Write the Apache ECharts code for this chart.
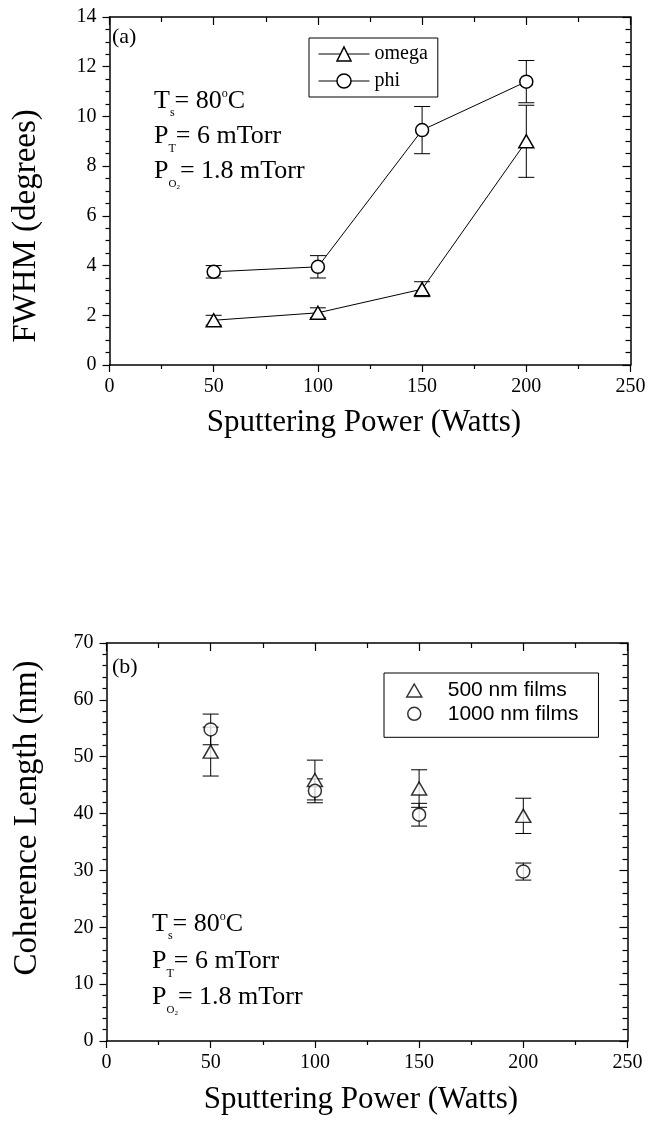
<!DOCTYPE html>
<html>
<head>
<meta charset="utf-8">
<script src="https://cdn.jsdelivr.net/npm/echarts@6/dist/echarts.min.js"></script>
<style>
  html, body { margin: 0; padding: 0; background: #fff; }
  #chart { width: 650px; height: 1124px; }
</style>
</head>
<body>
<div id="chart"></div>
<script>
// Sputtering power on both panels (Watts)
const power = [50, 100, 150, 200];
const powerTicks = [0, 50, 100, 150, 200, 250];

// (a) rocking-curve widths, degrees
const omegaFWHM = [1.8, 2.1, 3.05, 9.0];
const omegaErr  = [0.2, 0.2, 0.3, 1.45];
const phiFWHM   = [3.75, 3.95, 9.45, 11.4];
const phiErr    = [0.25, 0.45, 0.95, 0.85];
const fwhmTicks = [0, 2, 4, 6, 8, 10, 12, 14];

// (b) coherence length, nm
const coh500     = [50.9, 45.9, 44.4, 39.6];
const coh500Err  = [4.3, 3.5, 3.3, 3.1];
const coh1000    = [54.8, 44.0, 39.8, 29.8];
const coh1000Err = [2.7, 2.1, 2.0, 1.5];
const cohTicks = [0, 10, 20, 30, 40, 50, 60, 70];

const serif = '"Liberation Serif", "Times New Roman", serif';
const sans = '"Liberation Sans", Arial, sans-serif';
const black = '#000';

const chart = echarts.init(document.getElementById('chart'), null, { renderer: 'canvas' });

const measureCtx = document.createElement('canvas').getContext('2d');
function textWidth(text, size) {
  measureCtx.font = size + 'px ' + serif;
  return measureCtx.measureText(text).width;
}

// one line of text with sub/superscripts, placed on a baseline
function formulaLine(x, baseline, parts) {
  const out = [];
  let cx = x;
  parts.forEach(p => {
    out.push({
      type: 'text', x: cx, y: baseline + (p.dy || 0) - 0.3375 * p.size, silent: true,
      style: { text: p.t, fontFamily: serif, fontSize: p.size, fill: black, align: 'left', verticalAlign: 'middle' }
    });
    cx += textWidth(p.t, p.size);
  });
  return out;
}
function conditions(x, baseline, step) {
  return [].concat(
    formulaLine(x, baseline, [
      { t: 'T', size: 26 }, { t: 's', size: 12, dy: 7 }, { t: '= 80', size: 26 },
      { t: 'o', size: 12, dy: -12 }, { t: 'C', size: 26 }
    ]),
    formulaLine(x, baseline + step, [
      { t: 'P', size: 26 }, { t: 'T', size: 12, dy: 8 }, { t: '= 6 mTorr', size: 26 }
    ]),
    formulaLine(x, baseline + 2 * step, [
      { t: 'P', size: 26 }, { t: 'O', size: 11, dy: 8 }, { t: '2', size: 7, dy: 10 },
      { t: '= 1.8 mTorr', size: 26 }
    ])
  );
}

function plainText(x, y, text, size, rot) {
  return {
    type: 'text', x: x, y: y, rotation: rot || 0, silent: true,
    style: { text: text, fontFamily: serif, fontSize: size, fill: black, align: rot ? 'center' : 'left', verticalAlign: 'middle' }
  };
}
function centeredText(x, y, text, size) {
  return {
    type: 'text', x: x, y: y, silent: true,
    style: { text: text, fontFamily: serif, fontSize: size, fill: black, align: 'center', verticalAlign: 'middle' }
  };
}

// axes ---------------------------------------------------------------
const lineStyle = { color: black, width: 1.5 };
const tickStyle = { color: black, width: 1.2 };
function rangeOf(ticks) {
  return { min: ticks[0], max: ticks[ticks.length - 1], interval: ticks[1] - ticks[0] };
}
function mainAxis(gridIndex, ticks, position, minorSplit) {
  return Object.assign({
    gridIndex: gridIndex, type: 'value', position: position,
    axisLine: { show: true, onZero: false, lineStyle: lineStyle },
    axisTick: { show: true, inside: false, length: 7, lineStyle: tickStyle },
    minorTick: { show: true, splitNumber: minorSplit, length: 4, lineStyle: tickStyle },
    axisLabel: { show: true, color: black, fontFamily: serif, fontSize: 20, margin: position === 'left' ? 13 : 12 },
    splitLine: { show: false }, minorSplitLine: { show: false }
  }, rangeOf(ticks));
}
function mirrorAxis(gridIndex, ticks, position, minorSplit) {
  return Object.assign({
    gridIndex: gridIndex, type: 'value', position: position,
    axisLine: { show: true, onZero: false, lineStyle: lineStyle },
    axisTick: { show: true, inside: true, length: 8, lineStyle: tickStyle },
    minorTick: { show: true, splitNumber: minorSplit, length: 5, lineStyle: tickStyle },
    axisLabel: { show: false },
    splitLine: { show: false }, minorSplitLine: { show: false }
  }, rangeOf(ticks));
}

// error bars ---------------------------------------------------------
function errorRows(values, errs) {
  return power.map((p, i) => [p, values[i] - errs[i], values[i] + errs[i]]);
}
function renderError(params, api) {
  const hi = api.coord([api.value(0), api.value(2)]);
  const lo = api.coord([api.value(0), api.value(1)]);
  const hw = 8;
  const style = { stroke: black, lineWidth: 1, fill: null };
  return {
    type: 'group',
    children: [
      { type: 'line', shape: { x1: hi[0], y1: hi[1], x2: lo[0], y2: lo[1] }, style: style },
      { type: 'line', shape: { x1: hi[0] - hw, y1: hi[1], x2: hi[0] + hw, y2: hi[1] }, style: style },
      { type: 'line', shape: { x1: lo[0] - hw, y1: lo[1], x2: lo[0] + hw, y2: lo[1] }, style: style }
    ]
  };
}
function errorSeries(name, xi, yi, values, errs) {
  return {
    name: name, type: 'custom', xAxisIndex: xi, yAxisIndex: yi, z: 1, silent: true,
    renderItem: renderError, encode: { x: 0, y: [1, 2] },
    data: errorRows(values, errs)
  };
}
function pairs(values) { return power.map((p, i) => [p, values[i]]); }

const marker = { color: '#fff', borderColor: black, borderWidth: 1.5 };

const option = {
  animation: false,
  backgroundColor: '#fff',
  grid: [
    { left: 109.5, top: 17, width: 521, height: 348, outerBoundsMode: 'none', containLabel: false },
    { left: 106.5, top: 643, width: 521, height: 398, outerBoundsMode: 'none', containLabel: false }
  ],
  xAxis: [
    mainAxis(0, powerTicks, 'bottom', 2),
    mirrorAxis(0, powerTicks, 'top', 2),
    mainAxis(1, powerTicks, 'bottom', 2),
    mirrorAxis(1, powerTicks, 'top', 2)
  ],
  yAxis: [
    mainAxis(0, fwhmTicks, 'left', 4),
    mirrorAxis(0, fwhmTicks, 'right', 4),
    mainAxis(1, cohTicks, 'left', 5),
    mirrorAxis(1, cohTicks, 'right', 5)
  ],
  legend: [
    {
      data: ['omega', 'phi'], orient: 'vertical', left: 309, top: 38,
      itemWidth: 51, itemHeight: 17.5, itemGap: 7, padding: [6, 10, 6, 9],
      borderColor: black, borderWidth: 1, selectedMode: false,
      textStyle: { fontFamily: serif, fontSize: 20, color: black },
      itemStyle: { color: '#fff', borderColor: black, borderWidth: 1.5 },
      lineStyle: { color: black, width: 1 }
    },
    {
      data: ['500 nm films', '1000 nm films'], orient: 'vertical', left: 384, top: 673,
      itemWidth: 15, itemHeight: 13, itemGap: 2.3, padding: [7, 20, 13, 22],
      borderColor: black, borderWidth: 1, selectedMode: false,
      textStyle: { fontFamily: sans, fontSize: 21, color: black, padding: [0, 0, 0, 21] },
      itemStyle: { color: '#fff', borderColor: black, borderWidth: 1.5 }
    }
  ],
  series: [
    errorSeries('omega error', 0, 0, omegaFWHM, omegaErr),
    errorSeries('phi error', 0, 0, phiFWHM, phiErr),
    {
      name: 'omega', type: 'line', xAxisIndex: 0, yAxisIndex: 0, z: 3,
      data: pairs(omegaFWHM), symbol: 'triangle', symbolSize: [15, 13], showAllSymbol: true,
      itemStyle: marker, lineStyle: { color: black, width: 1 }
    },
    {
      name: 'phi', type: 'line', xAxisIndex: 0, yAxisIndex: 0, z: 3,
      data: pairs(phiFWHM), symbol: 'circle', symbolSize: 13, showAllSymbol: true,
      itemStyle: marker, lineStyle: { color: black, width: 1 }
    },
    errorSeries('500 nm error', 2, 2, coh500, coh500Err),
    errorSeries('1000 nm error', 2, 2, coh1000, coh1000Err),
    {
      name: '500 nm films', type: 'scatter', xAxisIndex: 2, yAxisIndex: 2, z: 3,
      data: pairs(coh500), symbol: 'triangle', symbolSize: [15, 13], itemStyle: marker
    },
    {
      name: '1000 nm films', type: 'scatter', xAxisIndex: 2, yAxisIndex: 2, z: 3,
      data: pairs(coh1000), symbol: 'circle', symbolSize: 13, itemStyle: marker
    }
  ],
  graphic: [].concat(
    [
      plainText(112, 37.5, '(a)', 22),
      plainText(112, 667, '(b)', 22),
      plainText(26, 226, 'FWHM (degrees)', 33, Math.PI / 2),
      plainText(27, 818, 'Coherence Length (nm)', 33, Math.PI / 2),
      centeredText(364, 423, 'Sputtering Power (Watts)', 31),
      centeredText(361, 1100, 'Sputtering Power (Watts)', 31)
    ],
    conditions(154, 110, 35),
    conditions(152, 933, 36.5)
  )
};

chart.setOption(option);
</script>
</body>
</html>
